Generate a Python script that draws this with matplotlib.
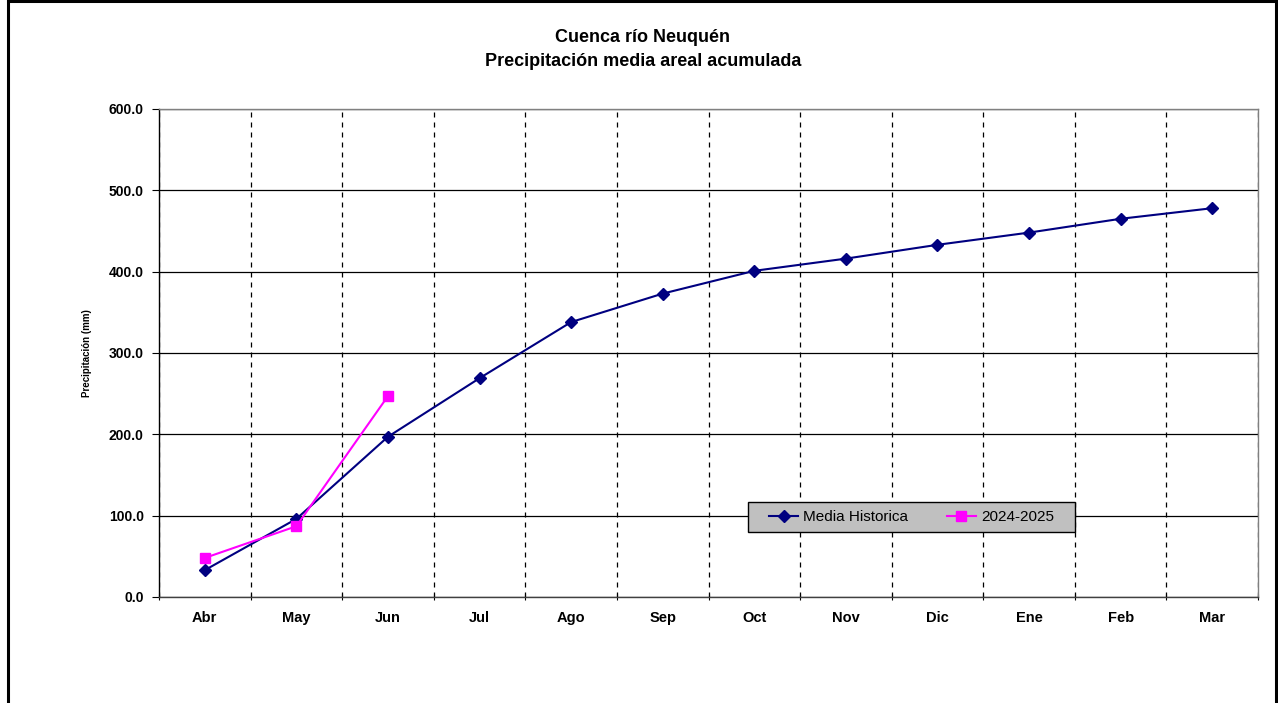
import numpy as np
import matplotlib.pyplot as plt
from matplotlib.patches import Rectangle

plt.switch_backend('Agg')
plt.rcParams['font.family'] = ['Liberation Sans', 'DejaVu Sans']

# Monthly accumulated precipitation (mm), hydrological year Apr-Mar
meses = ['Abr', 'May', 'Jun', 'Jul', 'Ago', 'Sep', 'Oct', 'Nov', 'Dic', 'Ene', 'Feb', 'Mar']
media_historica = [33.0, 96.0, 197.0, 269.0, 338.0, 373.0, 401.0, 416.0, 433.0, 448.0, 465.0, 478.0]
temporada_actual = [48.0, 87.0, 247.0]

fig = plt.figure(figsize=(12.78, 7.03), dpi=100)
ax = fig.add_axes([0.1244, 0.1508, 0.86, 0.6942])

x = np.arange(len(meses))
ax.plot(x, media_historica, color='#000080', lw=1.5, marker='D', ms=6,
        label='Media Historica', zorder=3)
ax.plot(x[:len(temporada_actual)], temporada_actual, color='#FF00FF', lw=1.5,
        marker='s', ms=7, label='2024-2025', zorder=4)

ax.set_xlim(-0.5, len(meses) - 0.5)
ax.set_ylim(0, 600)
ax.set_yticks(np.arange(0, 601, 100))
ax.set_yticklabels([f'{v:.1f}' for v in np.arange(0, 601, 100)],
                   fontsize=10, fontweight='bold')

# category boundaries carry the ticks and dashed grid, labels sit at centres
ax.set_xticks(np.arange(-0.5, len(meses), 1.0))
ax.set_xticklabels([])
ax.set_xticks(x, minor=True)
ax.set_xticklabels(meses, minor=True, fontsize=10.5, fontweight='bold')
ax.tick_params(axis='x', which='major', length=5, direction='inout', color='black')
ax.tick_params(axis='x', which='minor', length=0, pad=10)
ax.tick_params(axis='y', length=5, direction='out', pad=6)

ax.grid(axis='y', color='black', lw=0.9, ls='-')
ax.grid(axis='x', which='major', color='black', lw=0.9, ls=(0, (4, 4)))
ax.set_axisbelow(True)

ax.spines['top'].set_color('#808080')
ax.spines['right'].set_color('#808080')
ax.spines['left'].set_color('black')
ax.spines['bottom'].set_color('#404040')
for s in ax.spines.values():
    s.set_linewidth(1.0)

ax.set_ylabel('Precipitación (mm)', fontsize=7, fontweight='bold', labelpad=12)

fig.text(0.503, 0.946, 'Cuenca río Neuquén', ha='center', va='center',
         fontsize=13, fontweight='bold')
fig.text(0.503, 0.912, 'Precipitación media areal acumulada', ha='center',
         va='center', fontsize=13, fontweight='bold')

# grey legend box, drawn separately so it can be wider than the entries
ax.add_patch(Rectangle((0.536, 0.1332), 0.2975, 0.0615, transform=ax.transAxes,
                       facecolor='#C0C0C0', edgecolor='black', lw=1.0,
                       zorder=4.5, clip_on=False))
leg = ax.legend(loc='center', bbox_to_anchor=(0.6847, 0.164), ncol=2,
                fontsize=11, frameon=False, handlelength=1.9,
                handletextpad=0.35, columnspacing=2.5, borderpad=0.5,
                borderaxespad=0)
leg.set_zorder(5)

# outer chart border (open at the bottom of the image)
fig.patches.append(Rectangle((8 / 1278, -0.1), 1268 / 1278, 1.098,
                             transform=fig.transFigure, fill=False,
                             edgecolor='black', lw=2.2))

fig.savefig('out.png', dpi=100)
